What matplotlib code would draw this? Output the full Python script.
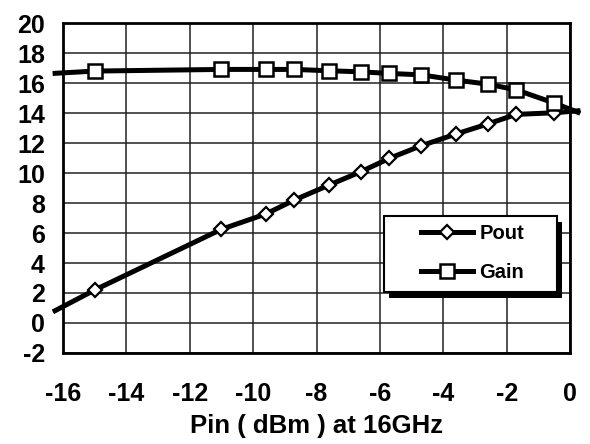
import matplotlib.pyplot as plt
from matplotlib.patches import Rectangle

plt.rcParams['font.family'] = ['Liberation Sans', 'DejaVu Sans']
plt.rcParams['font.weight'] = 'bold'
plt.rcParams['axes.unicode_minus'] = False

# values (first and last point carry no marker)
pin = [-16.25, -15, -11, -9.6, -8.7, -7.6, -6.6, -5.7, -4.7, -3.6, -2.6, -1.7, -0.5, 0.25]
pout = [0.82, 2.2, 6.25, 7.27, 8.2, 9.2, 10.09, 10.98, 11.82, 12.6, 13.27, 13.91, 14.02, 14.15]
gain = [16.65, 16.8, 16.91, 16.91, 16.91, 16.82, 16.75, 16.64, 16.55, 16.2, 15.93, 15.55, 14.67, 14.05]

xticks = list(range(-16, 1, 2))
yticks = list(range(-2, 21, 2))

fig = plt.figure(figsize=(5.9, 4.44), dpi=100)
ax = fig.add_axes([0.1068, 0.205, 0.8593, 0.743])

ax.plot(pin, pout, color='black', lw=3.6, marker='D', ms=7.5, mfc='white', mec='black',
        mew=1.6, markevery=slice(1, -1), clip_on=False, label='Pout', zorder=3)
ax.plot(pin, gain, color='black', lw=3.6, marker='s', ms=9.5, mfc='white', mec='black',
        mew=1.8, markevery=slice(1, -1), clip_on=False, label='Gain', zorder=3)

ax.set_xlim(-16, 0)
ax.set_ylim(-2, 20)
ax.set_xticks(xticks)
ax.set_yticks(yticks)
ax.grid(True, color='#222222', lw=1.1)
ax.tick_params(axis='both', length=0, labelsize=18)
ax.tick_params(axis='x', pad=21)
ax.tick_params(axis='y', pad=13)
for s in ax.spines.values():
    s.set_linewidth(2)
ax.set_xlabel('Pin ( dBm ) at 16GHz', fontsize=18.5, fontweight='bold', labelpad=6)

# legend box with a solid offset shadow, like the original
ax.add_patch(Rectangle((0.643, 0.167), 0.341, 0.230, transform=ax.transAxes,
                       facecolor='black', edgecolor='none', zorder=4))
ax.add_patch(Rectangle((0.633, 0.185), 0.341, 0.230, transform=ax.transAxes,
                       facecolor='white', edgecolor='black', lw=1.5, zorder=4))
leg = ax.legend(loc='center left', bbox_to_anchor=(0.706, 0.303), borderaxespad=0,
                frameon=False, fontsize=14.5, borderpad=0, handlelength=2.6,
                handletextpad=0.3, labelspacing=0.95)
leg.set_zorder(5)

fig.savefig('out.png')
